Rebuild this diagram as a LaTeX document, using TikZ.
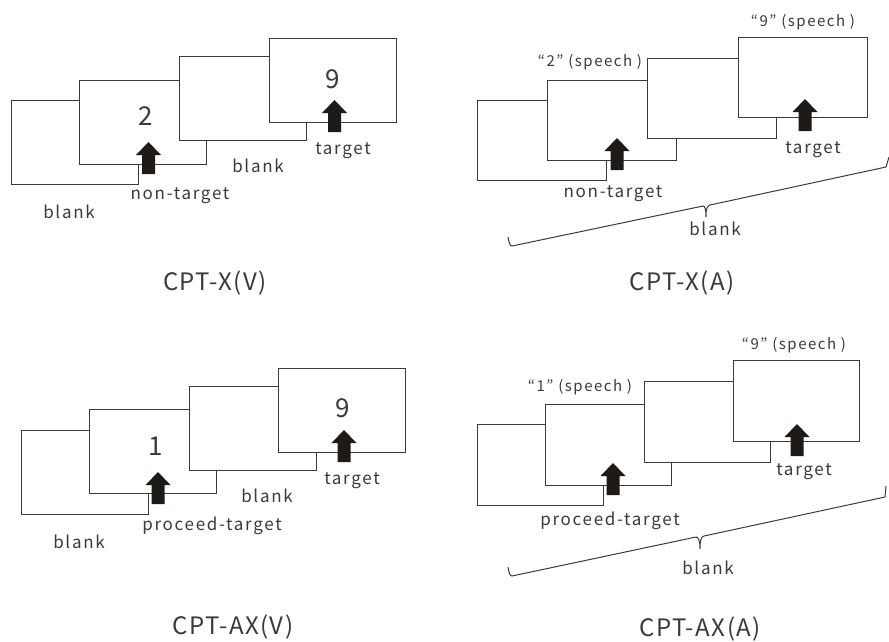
\documentclass[tikz,border=0pt]{standalone}
\usepackage{fontspec}
\setmainfont{Noto Sans CJK JP}
\newfontfamily\lblfont{Noto Sans CJK JP}[LetterSpace=10]
\newfontfamily\titlefont{Noto Sans CJK JP}[LetterSpace=6]
\usepackage{tikz}
\definecolor{inkgray}{HTML}{3A3A3A}
\definecolor{arrowblk}{HTML}{1E1A18}

\begin{document}
\begin{tikzpicture}[x=1pt, y=-1pt,
    card/.style={draw=inkgray, fill=white, line width=1.1pt, inner sep=0pt,
      minimum width=127pt, minimum height=84pt, anchor=north west},
    cardA/.style={card, minimum width=129pt, minimum height=80pt},
    digit/.style={text=inkgray, font=\fontsize{26}{28}\selectfont},
    lbl/.style={text=inkgray, font=\lblfont\fontsize{17}{19}\selectfont, inner sep=0pt},
    speech/.style={text=inkgray, font=\lblfont\fontsize{15}{17}\selectfont, inner sep=0pt},
    title/.style={text=inkgray, font=\titlefont\fontsize{24}{26}\selectfont, inner sep=0pt},
    upblock/.pic={\fill[arrowblk] (-6.5,0) -- (-6.5,-19) -- (-12.5,-19) -- (0,-32)
      -- (12.5,-19) -- (6.5,-19) -- (6.5,0) -- cycle;}]

  \useasboundingbox (0,0) rectangle (889,641);

  % ---------------- CPT-X(V) ----------------
  \node[card] (xv1) at (11,100) {};
  \node[card] (xv2) at (79,80) {};
  \node[card] (xv3) at (179,56) {};
  \node[card] (xv4) at (269,38) {};
  \node[digit] (xvn2) at (146,116) {2};
  \node[digit] (xvn9) at (333,79) {9};
  \pic at (148.5,174) {upblock};
  \pic at (334.5,132) {upblock};
  \node[lbl] (xvtg) at (343,151) {target};
  \node[lbl] (xvb2) at (258,166) {blank};
  \node[lbl] (xvnt) at (180,196) {non-target};
  \node[lbl] (xvb1) at (69,212) {blank};
  \node[title] (xvt) at (215,283) {CPT-X(V)};

  % ---------------- CPT-X(A) ----------------
  \node[cardA] (xa1) at (477,100) {};
  \node[cardA] (xa2) at (547,80) {};
  \node[cardA] (xa3) at (647,58) {};
  \node[cardA] (xa4) at (738,37) {};
  \pic at (617,170) {upblock};
  \pic at (805,131) {upblock};
  \node[speech] (xas2) at (590,62) {“2” (speech )};
  \node[speech] (xas9) at (803,22) {“9” (speech )};
  \node[lbl] (xatg) at (813,150) {target};
  \node[lbl] (xant) at (613,194) {non-target};
  % brace over the whole trial
  \draw[inkgray, line width=1pt] (508,237) .. controls (509,243) and (510,246) .. (512,246)
    -- (703,206) .. controls (705,206) and (706,209) .. (706,217)
    .. controls (706,209) and (707,206) .. (710,205) -- (886,167) -- (889,157);
  \node[lbl] (xab) at (715,229) {blank};
  \node[title] (xat) at (682,283) {CPT-X(A)};

  % ---------------- CPT-AX(V) ----------------
  \node[card] (av1) at (21,430) {};
  \node[card] (av2) at (89,409) {};
  \node[card] (av3) at (189,386) {};
  \node[card] (av4) at (278,368) {};
  \node[digit] (avn1) at (156,446) {1};
  \node[digit] (avn9) at (343,408) {9};
  \pic at (158,504) {upblock};
  \pic at (344,462) {upblock};
  \node[lbl] (avtg) at (352,481) {target};
  \node[lbl] (avb2) at (267,496) {blank};
  \node[lbl] (avpt) at (212,526) {proceed-target};
  \node[lbl] (avb1) at (79,542) {blank};
  \node[title] (avt) at (233,627) {CPT-AX(V)};

  % ---------------- CPT-AX(A) ----------------
  \node[cardA, minimum width=126pt, minimum height=81pt] (aa1) at (477,424) {};
  \node[cardA, minimum width=126pt, minimum height=81pt] (aa2) at (545,404) {};
  \node[cardA, minimum width=126pt, minimum height=81pt] (aa3) at (644,381) {};
  \node[cardA, minimum width=126pt, minimum height=81pt] (aa4) at (733,360) {};
  \pic at (613,495) {upblock};
  \pic at (797,456) {upblock};
  \node[speech] (aas1) at (580,387) {“1” (speech )};
  \node[speech] (aas9) at (794,345) {“9” (speech )};
  \node[lbl] (aatg) at (804,472) {target};
  \node[lbl] (aapt) at (610,521) {proceed-target};
  % brace over the whole trial
  \draw[inkgray, line width=1pt] (508,567) .. controls (509,573) and (510,576) .. (512,576)
    -- (696,537) .. controls (698,537) and (700,540) .. (700,549)
    .. controls (700,540) and (701,537) .. (704,536) -- (885,497) -- (886,486);
  \node[lbl] (aab) at (708,568) {blank};
  \node[title] (aat) at (700,629) {CPT-AX(A)};

\end{tikzpicture}
\end{document}
